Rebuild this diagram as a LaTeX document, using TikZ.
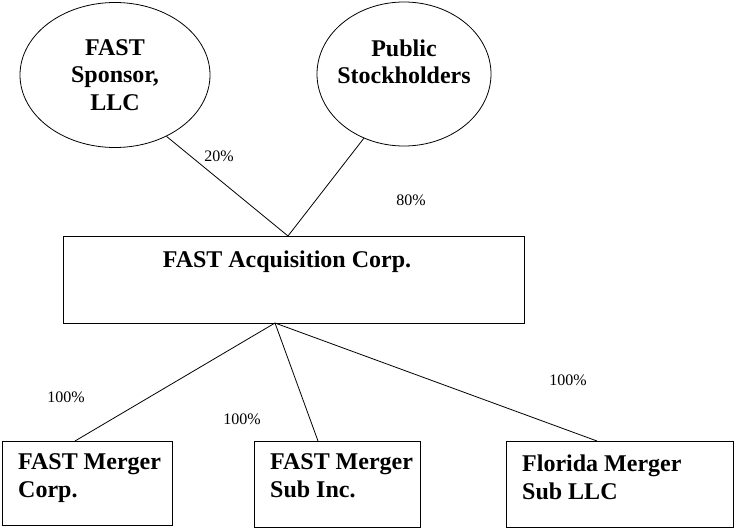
\documentclass[tikz,border=0pt]{standalone}
\usepackage{fontspec}
\setmainfont{Liberation Serif}
\usetikzlibrary{shapes.geometric}
\begin{document}
\begin{tikzpicture}[x=1pt,y=-1pt,
  ell/.style={draw,ellipse,line width=0.8pt,font=\fontsize{24}{27.5}\selectfont\bfseries,align=center},
  btxt/.style={anchor=north west,font=\fontsize{24}{28}\selectfont\bfseries,align=left,inner sep=0pt},
  pct/.style={font=\fontsize{16}{18}\selectfont},
  ln/.style={line width=0.8pt}]
\useasboundingbox (0,0) rectangle (736,530);
\node[ell,minimum width=190,minimum height=145] (sp) at (115,75) {FAST\\Sponsor,\\LLC};
\node[ell,minimum width=174,minimum height=144] (ps) at (404,74) {};
\node[font=\fontsize{24}{27.5}\selectfont\bfseries,align=center] (pst) at (404,62) {Public\\Stockholders};
\draw[ln] (63,236) rectangle (524,323);
\node[font=\fontsize{24}{27}\selectfont\bfseries] (fa) at (287,262) {FAST Acquisition Corp.};
\coordinate (top) at (288,236);
\coordinate (bot) at (275,323);
\draw[ln] (sp.-50) -- (top);
\draw[ln] (ps.-122) -- (top);
\node[pct] (p20) at (219,156) {20\%};
\node[pct] (p80) at (411,200) {80\%};
\draw[ln] (2,441) rectangle (172,525);
\draw[ln] (254,441) rectangle (420,527);
\draw[ln] (506,441) rectangle (733,527);
\node[btxt] (b1) at (18,453) {FAST Merger\\Corp.};
\node[btxt] (b2) at (270,453) {FAST Merger\\Sub Inc.};
\node[btxt] (b3) at (522,455) {Florida Merger\\Sub LLC};
\coordinate (e1) at (75,441);
\coordinate (e2) at (318,441);
\coordinate (e3) at (597,441);
\draw[ln] (bot) -- (e1);
\draw[ln] (bot) -- (e2);
\draw[ln] (bot) -- (e3);
\node[pct] (q1) at (66,397) {100\%};
\node[pct] (q2) at (242,419) {100\%};
\node[pct] (q3) at (568,380) {100\%};
\end{tikzpicture}
\end{document}
